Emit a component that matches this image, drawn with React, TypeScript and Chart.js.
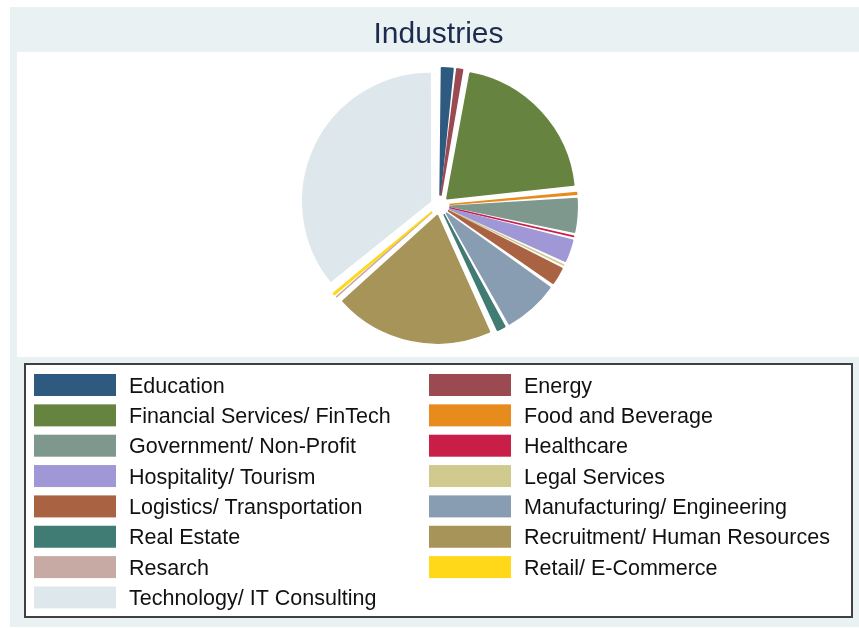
import React, { useEffect, useRef } from "react";
import { Chart, registerables } from "chart.js";

Chart.register(...registerables);

const title = "Industries";

const categories = [
  "Education",
  "Energy",
  "Financial Services/ FinTech",
  "Food and Beverage",
  "Government/ Non-Profit",
  "Healthcare",
  "Hospitality/ Tourism",
  "Legal Services",
  "Logistics/ Transportation",
  "Manufacturing/ Engineering",
  "Real Estate",
  "Recruitment/ Human Resources",
  "Resarch",
  "Retail/ E-Commerce",
  "Technology/ IT Consulting",
];

const shares = [1.8, 1.1, 20.4, 0.6, 4.5, 0.4, 3.1, 0.4, 2.5, 7.1, 1.4, 20.0, 0.3, 0.6, 35.8];

const colors = [
  "#2e5a80",
  "#9c4a52",
  "#66843f",
  "#e88b1d",
  "#7e988e",
  "#c81e48",
  "#a098d6",
  "#d0ca8e",
  "#aa6342",
  "#889db2",
  "#417c74",
  "#a69459",
  "#c8aaa5",
  "#ffd81a",
  "#dee8ec",
];

const W = 859;
const H = 628;
const BG = "#e9f1f3";

const explodeFix = {
  id: "explodeFix",
  afterDatasetUpdate(chart: any, args: any) {
    const meta = args.meta;
    meta.data.forEach((el: any) => {
      const off = ((el.options && el.options.offset) || 0) / 4;
      const fix = 1 - Math.sin(Math.min(Math.PI, el.circumference || 0));
      el.outerRadius = el.outerRadius - off * fix;
    });
  },
};

const frame = {
  id: "frame",
  beforeDraw(chart: any) {
    const ctx = chart.ctx;
    ctx.save();
    ctx.fillStyle = "#ffffff";
    ctx.fillRect(0, 0, W, H);
    ctx.fillStyle = BG;
    ctx.fillRect(10, 7, 856, 620);
    ctx.fillStyle = "#ffffff";
    ctx.fillRect(17, 52, 842, 305);
    // legend box
    ctx.fillRect(25, 364, 827, 253);
    ctx.strokeStyle = "#404040";
    ctx.lineWidth = 2;
    ctx.strokeRect(25, 364, 827, 253);
    ctx.restore();
  },
  afterDraw(chart: any) {
    const ctx = chart.ctx;
    ctx.save();
    ctx.fillStyle = "#1c2c4f";
    ctx.font = '30px "Liberation Sans", Arial, sans-serif';
    ctx.textAlign = "center";
    ctx.textBaseline = "alphabetic";
    ctx.fillText(title, 438.5, 43);

    const labels = chart.data.labels as string[];
    const bgs = chart.data.datasets[0].backgroundColor as string[];
    ctx.font = '21.5px "Liberation Sans", Arial, sans-serif';
    ctx.textAlign = "left";
    labels.forEach((lab, i) => {
      const col = i % 2;
      const row = Math.floor(i / 2);
      const cy = 385 + row * 30.35;
      const sx = col === 0 ? 34 : 429;
      const tx = col === 0 ? 129 : 524;
      ctx.fillStyle = bgs[i];
      ctx.fillRect(sx, cy - 11, 82, 22);
      ctx.fillStyle = "#111111";
      ctx.fillText(lab, tx, cy + 7.5);
    });
    ctx.restore();
  },
};

export default function App() {
  const ref = useRef<HTMLCanvasElement>(null);
  useEffect(() => {
    if (!ref.current) return;
    const chart = new Chart(ref.current, {
      type: "pie",
      data: {
        labels: categories,
        datasets: [
          {
            data: shares,
            backgroundColor: colors,
            borderColor: colors,
            borderWidth: 1.5,
            offset: 40,
          },
        ],
      },
      options: {
        responsive: false,
        animation: false,
        events: [],
        layout: { padding: { top: 57, bottom: 274, left: 291, right: 271 } },
        plugins: {
          legend: { display: false },
          title: { display: false },
          tooltip: { enabled: false },
        },
      },
      plugins: [explodeFix, frame],
    });
    return () => chart.destroy();
  }, []);
  return (
    <div style={{ position: "absolute", left: 0, top: 0, width: W, height: H }}>
      <canvas ref={ref} width={W} height={H} style={{ display: "block" }} />
    </div>
  );
}
